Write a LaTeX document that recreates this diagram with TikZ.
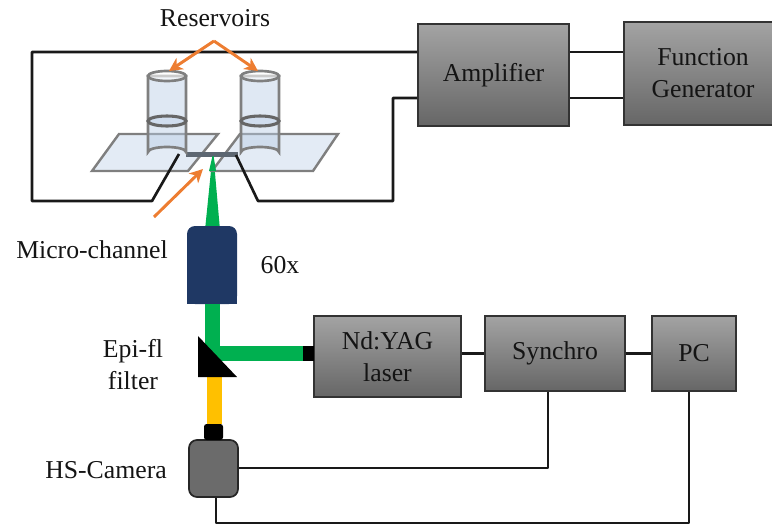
\documentclass[tikz,border=0pt]{standalone}
\usepackage{fontspec}
\usetikzlibrary{arrows.meta}
\setmainfont{Liberation Serif}
\definecolor{beamgreen}{HTML}{00B050}
\definecolor{beamyellow}{HTML}{FFC000}
\definecolor{pointerorange}{HTML}{ED7D31}
\definecolor{lensnavy}{HTML}{1F3864}
\definecolor{glassblue}{HTML}{DCE6F2}
\definecolor{tubeblue}{HTML}{B9CDE5}
\definecolor{rimgray}{HTML}{7F7F7F}
\tikzset{
  labeltext/.style={text=black!92,font=\fontsize{19.3}{24}\selectfont,align=center,inner sep=0pt},
  blockbox/.style={labeltext,draw=black!80,line width=1.3pt,top color=black!36,bottom color=black!60,minimum width=#1},
  wire/.style={draw=black!90,line width=2pt,line join=round},
  beam/.style={line width=11.25pt,line join=miter},
  glass/.style={draw=rimgray,line width=1.8pt,fill=glassblue,fill opacity=.8},
  tube/.style={draw=rimgray,line width=2pt,fill=tubeblue,fill opacity=.45},
  pointer/.style={draw=pointerorange,line width=2.2pt,-{Stealth[length=10pt,width=10pt,inset=3pt]}}
}
\begin{document}
\begin{tikzpicture}[x=0.75pt,y=-0.75pt]
\useasboundingbox (0,0) rectangle (772,525);
% beam cone goes under the lens
\coordinate (conetip) at (212.5,156);
\fill [beamgreen] (205,230) -- (conetip) -- ++(1,0) -- (220,230) -- cycle;
% blocks
\node [blockbox=113.25pt,minimum height=76.5pt] (amp) at (493.5,75) {Amplifier};
\node [blockbox=118.5pt,minimum height=77.25pt] (fgen) at (703,73.5) {Function\\Generator};
\node [blockbox=110.25pt,minimum height=60.75pt] (laser) at (387.5,356.5) {Nd:YAG\\laser};
\node [blockbox=105pt,minimum height=56.25pt] (sync) at (555,353.5) {Synchro};
\node [blockbox=63pt,minimum height=56.25pt] (pc) at (694,353.5) {PC};
% microscope parts
\node [fill=lensnavy,rounded corners=6pt,minimum width=37.5pt,minimum height=58.5pt,inner sep=0pt] (lens) at (212,265) {};
\fill [lensnavy] (lens.west) rectangle (lens.south east);
\node [draw=black!85,line width=1.3pt,fill=black!58,rounded corners=6pt,minimum width=36.75pt,minimum height=42.75pt,inner sep=0pt] (cam) at (213.5,468.5) {};
\node [fill=black,minimum width=8.25pt,minimum height=11.25pt,inner sep=0pt] (port) at (308.5,353.5) {};
\node [fill=black,rounded corners=2pt,minimum width=14.25pt,minimum height=12pt,inner sep=0pt] (camport) at (213.5,432) {};
% corner points
\coordinate (wireTL) at (32,52);
\coordinate (wireBL) at (32,201);
\coordinate (kinkL) at (152,201);
\coordinate (padL) at (179,154);
\coordinate (padR) at (236,155);
\coordinate (kinkR) at (258,201);
\coordinate (wireR) at (393,201);
\coordinate (wireRup) at (393,98);
\coordinate (turn) at (212.5,353.5);
\coordinate (camwire) at (548,468);
\coordinate (pcwire) at (689,523);
\coordinate (camdrop) at (216,523);
% slides
\draw [glass] (92,171) -- (119,134) -- (218,134) -- (188,171) -- cycle;
\draw [glass] (212,171) -- (240,134) -- (338,134) -- (313,171) -- cycle;
\fill [black!50!tubeblue] (186,152) rectangle (238,157);
\fill [beamgreen] (209,171) -- (conetip) -- ++(1,0) -- (216,171) -- cycle;
% reservoirs
\foreach \cx in {167,260}{
  \draw [tube] (\cx-19,76) -- (\cx-19,152) arc [start angle=180,end angle=360,x radius=19,y radius=5] -- (\cx+19,76) -- cycle;
  \draw [draw=rimgray,line width=2pt,fill=white,fill opacity=.6] (\cx,76) ellipse [x radius=19,y radius=5];
  \draw [draw=black!60,line width=2.3pt,fill=tubeblue,fill opacity=.4] (\cx,121) ellipse [x radius=19,y radius=5];
}
% beams
\draw [beam,draw=beamgreen] (turn |- lens.south) -- (turn) -- (port.west);
\draw [beam,draw=beamyellow] (214,377) -- (camport.north -| 214,0);
\fill [black] (198,336) -- (198,377) -- (237,377) -- cycle;
% wires
\draw [wire] (amp.west |- wireTL) -- (wireTL) -- (wireBL) -- (kinkL) -- (padL);
\draw [wire] (padR) -- (kinkR) -- (wireR) -- (wireRup) -- (amp.west |- wireRup);
\draw [wire] (amp.east |- wireTL) -- (fgen.west |- wireTL);
\draw [wire] (amp.east |- wireRup) -- (fgen.west |- wireRup);
\draw [wire] (laser.east |- sync.west) -- (sync.west);
\draw [wire] (sync.east) -- (pc.west);
\draw [wire] (cam.east |- camwire) -- (camwire) -- (sync.south -| camwire);
\draw [wire] (cam.south -| camdrop) -- (camdrop) -- (pcwire) -- (pc.south -| pcwire);
% pointers
\coordinate (apex) at (214,41);
\draw [pointer] (apex) -- (169,71);
\draw [pointer] (apex) -- (258,71);
\draw [pointer] (154,217) -- (203,169);
% labels
\node [labeltext] (reslabel) at (215,18) {Reservoirs};
\node [labeltext] (chanlabel) at (92,250) {Micro-channel};
\node [labeltext] (maglabel) at (280,265) {60x};
\node [labeltext] (filterlabel) at (133,365) {Epi-fl\\filter};
\node [labeltext] (camlabel) at (106,470) {HS-Camera};
\end{tikzpicture}
\end{document}
